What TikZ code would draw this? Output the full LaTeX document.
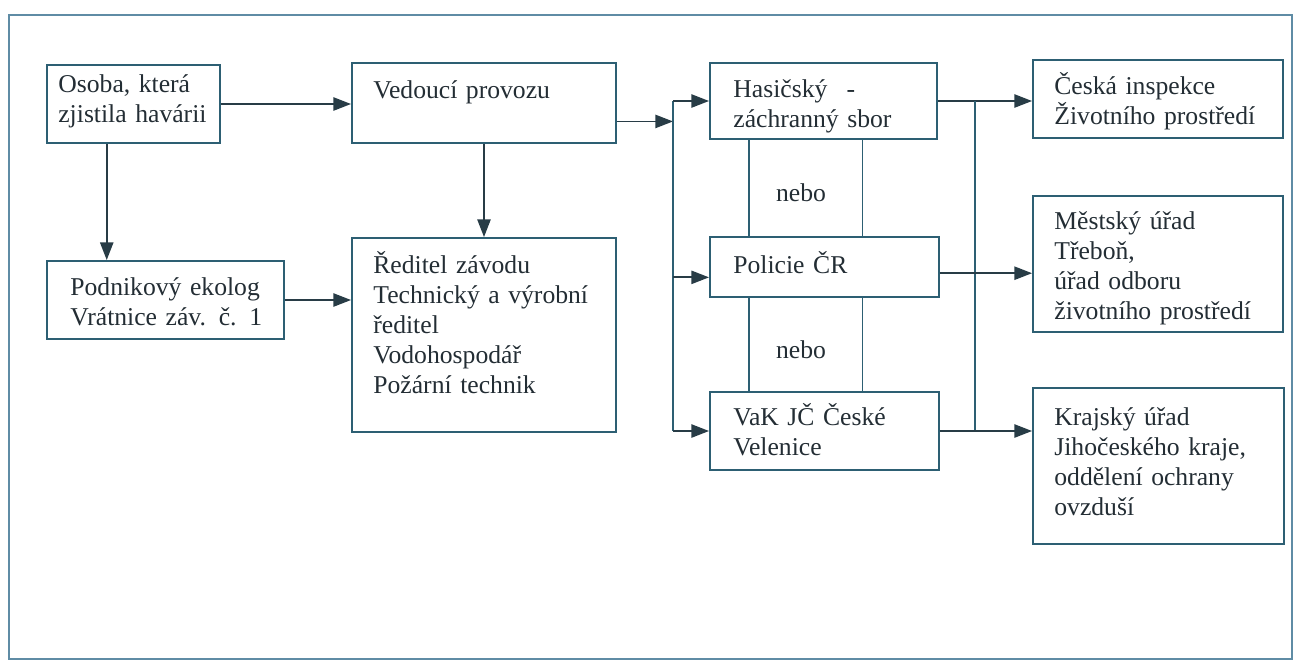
\documentclass[tikz,border=0pt]{standalone}
\usepackage{fontspec}
\setmainfont{Liberation Serif}
\usetikzlibrary{arrows.meta,fit,calc}
\definecolor{boxline}{RGB}{45,95,115}
\definecolor{txt}{RGB}{35,45,52}
\definecolor{arrline}{RGB}{40,60,70}
\definecolor{frameline}{RGB}{95,140,165}
\begin{document}
\begin{tikzpicture}[x=0.02cm,y=-0.02cm,
  box/.style={draw=boxline, line width=1.1pt, inner sep=0pt},
  lbl/.style={anchor=base west, inner sep=0pt, text width=#1, align=left, text=txt, font=\fontsize{14.6}{17.2}\selectfont},
  lbl/.default=4cm,
  nebolbl/.style={inner sep=0pt, text=txt, font=\fontsize{14.6}{17.2}\selectfont},
  arr/.style={draw=arrline, line width=1pt, -{Triangle[length=10pt,width=7.5pt]}},
  ln/.style={draw=boxline, line width=1pt},
]
\useasboundingbox (0,0) rectangle (1300,667);
\node[draw=frameline, line width=1pt, inner sep=0pt, fit={(9,15) (1292,659)}] (frame) {};

% boxes
\node[box, fit={(47,65) (220,143)}] (osoba) {};
\node[box, fit={(352,63) (616,143)}] (vedouci) {};
\node[box, fit={(47,261) (284,339)}] (podnik) {};
\node[box, fit={(352,238) (616,432)}] (reditel) {};
\node[box, fit={(710,63) (937,139)}] (hasic) {};
\node[box, fit={(710,237) (939,297)}] (policie) {};
\node[box, fit={(710,392) (939,470)}] (vak) {};
\node[box, fit={(1033,60) (1283,138)}] (ceska) {};
\node[box, fit={(1033,196) (1283,332)}] (mestsky) {};
\node[box, fit={(1033,388) (1284,544)}] (krajsky) {};

% texts
\node[lbl=3.2cm] (osoba-t) at (58,92) {Osoba, která\\zjistila havárii};
\node[lbl=4.8cm] (vedouci-t) at (373,98) {Vedoucí provozu};
\node[lbl] (podnik-t) at (70,295) {Podnikový ekolog\\Vrátnice záv. č. 1};
\node[lbl=4.8cm] (reditel-t) at (373,273) {Ředitel závodu\\Technický a výrobní\\ředitel\\Vodohospodář\\Požární technik};
\node[lbl=4cm] (hasic-t) at (733,97) {Hasičský\hspace{0.75em}-\\záchranný sbor};
\node[lbl=4cm] (policie-t) at (733,273) {Policie ČR};
\node[lbl=4cm] (vak-t) at (733,425) {VaK JČ České\\Velenice};
\node[lbl=4.5cm] (ceska-t) at (1054,94) {Česká inspekce\\Životního prostředí};
\node[lbl=4.5cm] (mestsky-t) at (1054,229) {Městský úřad\\Třeboň,\\úřad odboru\\životního prostředí};
\node[lbl=4.5cm] (krajsky-t) at (1054,425) {Krajský úřad\\Jihočeského kraje,\\oddělení ochrany\\ovzduší};
\node[nebolbl] (nebo1) at (801,193) {nebo};
\node[nebolbl] (nebo2) at (801,350) {nebo};

% left part
\draw[arr] (osoba.east) -- (osoba.east -| vedouci.west);
\coordinate (o1) at ($(osoba.south west)!0.347!(osoba.south east)$);
\draw[arr] (o1) -- (o1 |- podnik.north);
\draw[arr] (vedouci.south) -- (reditel.north);
\draw[arr] (podnik.east) -- (podnik.east -| reditel.west);

% left bus
\coordinate (busL) at (673,0);
\coordinate (v1) at ($(vedouci.north east)!0.725!(vedouci.south east)$);
\draw[arr] (v1) -- (v1 -| busL);
\draw[ln] (busL |- hasic.west) -- (busL |- vak.west);
\draw[arr] (busL |- hasic.west) -- (hasic.west);
\coordinate (p1) at ($(policie.north west)!0.667!(policie.south west)$);
\draw[arr] (busL |- p1) -- (p1);
\draw[arr] (busL |- vak.west) -- (vak.west);

% nebo lines
\coordinate (n1) at ($(hasic.south west)!0.176!(hasic.south east)$);
\coordinate (n2) at ($(hasic.south west)!0.670!(hasic.south east)$);
\draw[ln] (n1) -- (n1 |- policie.north);
\draw[ln] (n2) -- (n2 |- policie.north);
\draw[ln] (n1 |- policie.south) -- (n1 |- vak.north);
\draw[ln] (n2 |- policie.south) -- (n2 |- vak.north);

% right bus
\coordinate (busR) at (975,0);
\draw[arr] (hasic.east) -- (hasic.east -| ceska.west);
\draw[ln] (busR |- hasic.east) -- (busR |- vak.east);
\coordinate (p2) at ($(policie.north east)!0.6!(policie.south east)$);
\draw[arr] (p2) -- (p2 -| mestsky.west);
\draw[arr] (vak.east) -- (vak.east -| krajsky.west);
\end{tikzpicture}
\end{document}
